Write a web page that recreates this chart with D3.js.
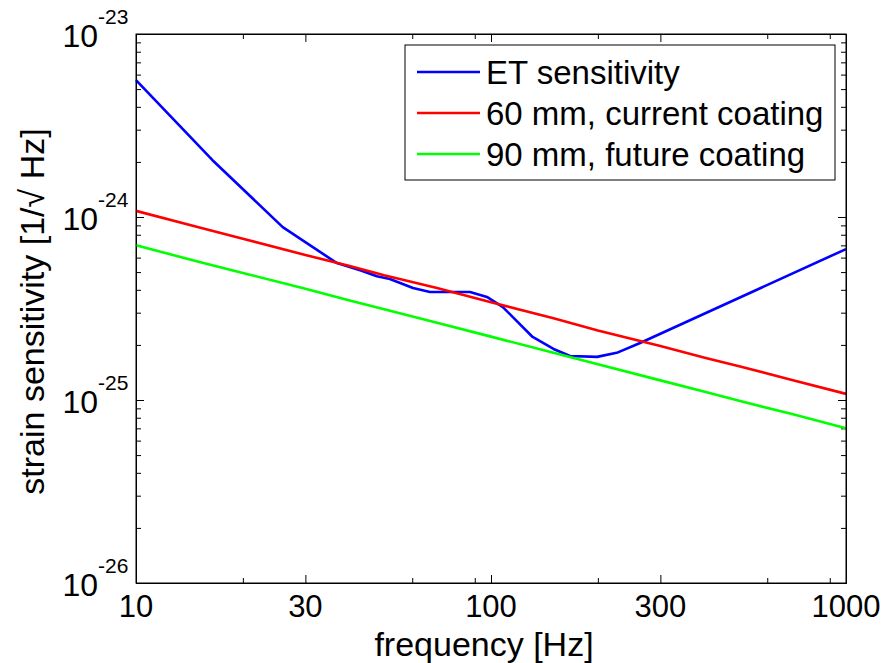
<!DOCTYPE html>
<html>
<head>
<meta charset="utf-8">
<script src="https://cdn.jsdelivr.net/npm/d3@7"></script>
<style>
  body { margin: 0; background: #fff; }
  text { font-family: "Liberation Sans", Arial, Helvetica, sans-serif; fill: #000; }
  .axis path, .axis line { stroke: #000; stroke-width: 1; }
</style>
</head>
<body>
<div id="chart"></div>
<script>
const margin = { top: 34, right: 38, bottom: 80, left: 136 };
const width = 884 - margin.left - margin.right,
      height = 663 - margin.top - margin.bottom;

// ET sensitivity curve
const freqET = [10, 16.4, 25.9, 36.8, 43, 47.7, 51.9, 60.3, 67.3, 87.3, 97.4, 108, 131, 150, 167, 199, 226, 263, 1000];
const sensET = [5.6e-24, 2.05e-24, 8.8e-25, 5.6e-25, 5.1e-25, 4.75e-25, 4.58e-25, 4.09e-25, 3.89e-25, 3.89e-25, 3.66e-25, 3.22e-25, 2.21e-25, 1.90e-25, 1.74e-25, 1.72e-25, 1.81e-25, 2.05e-25, 6.68e-25];

// coating curves
const freqCoat = [10, 15, 20, 30, 40, 50, 70, 100, 150, 200, 300, 400, 500, 700, 1000];
const sens60 = [1.08e-24, 8.8e-25, 7.6e-25, 6.2e-25, 5.4e-25, 4.8e-25, 4.1e-25, 3.42e-25, 2.8e-25, 2.4e-25, 1.97e-25, 1.7e-25, 1.53e-25, 1.29e-25, 1.08e-25];
const sens90 = [7.0e-25, 5.7e-25, 4.95e-25, 4.05e-25, 3.5e-25, 3.13e-25, 2.65e-25, 2.22e-25, 1.81e-25, 1.57e-25, 1.28e-25, 1.11e-25, 9.9e-26, 8.4e-26, 7.0e-26];

const seriesNames = ['ET sensitivity', '60 mm, current coating', '90 mm, future coating'];
const seriesColors = ['#0000ff', '#ff0000', '#00ff00'];

const xMajor = [10, 30, 100, 300, 1000];
const xMinor = [20, 60, 90, 200, 600, 900];
const yExponents = [-23, -24, -25, -26];

const series = [
  freqET.map((f, i) => ({ f: f, v: sensET[i] })),
  freqCoat.map((f, i) => ({ f: f, v: sens60[i] })),
  freqCoat.map((f, i) => ({ f: f, v: sens90[i] }))
];

const svg = d3.select('#chart').append('svg')
  .attr('width', width + margin.left + margin.right)
  .attr('height', height + margin.top + margin.bottom);

const g = svg.append('g')
  .attr('transform', 'translate(' + margin.left + ',' + margin.top + ')');

const xScale = d3.scaleLog().domain([10, 1000]).range([0, width]);
const yScale = d3.scaleLog().domain([1e-26, 1e-23]).range([height, 0]);

// y minor ticks 2..9 per decade
const yMinor = [];
yExponents.slice(1).forEach(e => {
  for (let k = 2; k <= 9; k++) yMinor.push(k * Math.pow(10, e));
});
const yMajor = yExponents.map(e => Math.pow(10, e));

const majLen = 8, minLen = 5;

// bottom & top
g.append('g').attr('class', 'axis')
  .attr('transform', 'translate(0,' + height + ')')
  .call(d3.axisBottom(xScale).tickValues(xMajor).tickSize(-majLen).tickSizeOuter(0).tickFormat(''));
g.append('g').attr('class', 'axis')
  .attr('transform', 'translate(0,' + height + ')')
  .call(d3.axisBottom(xScale).tickValues(xMinor).tickSize(-minLen).tickSizeOuter(0).tickFormat(''));
g.append('g').attr('class', 'axis')
  .call(d3.axisTop(xScale).tickValues(xMajor).tickSize(-majLen).tickSizeOuter(0).tickFormat(''));
g.append('g').attr('class', 'axis')
  .call(d3.axisTop(xScale).tickValues(xMinor).tickSize(-minLen).tickSizeOuter(0).tickFormat(''));

// left & right
g.append('g').attr('class', 'axis')
  .call(d3.axisLeft(yScale).tickValues(yMajor).tickSize(-majLen).tickSizeOuter(0).tickFormat(''));
g.append('g').attr('class', 'axis')
  .call(d3.axisLeft(yScale).tickValues(yMinor).tickSize(-minLen).tickSizeOuter(0).tickFormat(''));
g.append('g').attr('class', 'axis')
  .attr('transform', 'translate(' + width + ',0)')
  .call(d3.axisRight(yScale).tickValues(yMajor).tickSize(-majLen).tickSizeOuter(0).tickFormat(''));
g.append('g').attr('class', 'axis')
  .attr('transform', 'translate(' + width + ',0)')
  .call(d3.axisRight(yScale).tickValues(yMinor).tickSize(-minLen).tickSizeOuter(0).tickFormat(''));

// x tick labels
g.selectAll('text.xlab')
  .data(xMajor)
  .enter().append('text')
  .attr('class', 'xlab')
  .attr('x', d => xScale(d))
  .attr('y', height + 34)
  .attr('text-anchor', 'middle')
  .style('font-size', '31px')
  .text(d => d);

// y tick labels 10^e
const ylab = g.selectAll('g.ylab')
  .data(yExponents)
  .enter().append('g')
  .attr('class', 'ylab')
  .attr('transform', d => 'translate(-38,' + yScale(Math.pow(10, d)) + ')');
ylab.append('text')
  .attr('x', 0)
  .attr('y', 13)
  .attr('text-anchor', 'end')
  .style('font-size', '32px')
  .text('10');
ylab.append('text')
  .attr('x', 0)
  .attr('y', -10)
  .style('font-size', '21px')
  .text(d => d);

// curves
const line = d3.line()
  .x(d => xScale(d.f))
  .y(d => yScale(d.v));

g.selectAll('path.curve')
  .data(series)
  .enter().append('path')
  .attr('class', 'curve')
  .attr('d', line)
  .attr('fill', 'none')
  .attr('stroke', (d, i) => seriesColors[i])
  .attr('stroke-width', 2.6)
  .attr('stroke-linejoin', 'round');

// box
g.append('rect')
  .attr('width', width)
  .attr('height', height)
  .attr('fill', 'none')
  .attr('stroke', '#000')
  .attr('stroke-width', 1);

// axis titles
svg.append('text')
  .attr('x', 484)
  .attr('y', 656)
  .attr('text-anchor', 'middle')
  .style('font-size', '34px')
  .text('frequency [Hz]');

svg.append('text')
  .attr('transform', 'translate(44,' + (margin.top + height / 2 + 3) + ') rotate(-90)')
  .attr('text-anchor', 'middle')
  .style('font-size', '34px')
  .text('strain sensitivity [1/\u221A Hz]');

// legend
const legend = svg.append('g').attr('class', 'legend');
legend.append('rect')
  .attr('x', 405)
  .attr('y', 45)
  .attr('width', 430)
  .attr('height', 135)
  .attr('fill', '#fff')
  .attr('stroke', '#000')
  .attr('stroke-width', 1);

const items = legend.selectAll('g.item')
  .data(seriesNames)
  .enter().append('g')
  .attr('class', 'item')
  .attr('transform', (d, i) => 'translate(0,' + (72 + i * 41) + ')');
items.append('line')
  .attr('x1', 417).attr('x2', 480)
  .attr('y1', 0).attr('y2', 0)
  .attr('stroke', (d, i) => seriesColors[i])
  .attr('stroke-width', 2.6);
items.append('text')
  .attr('x', 486)
  .attr('y', 12)
  .style('font-size', '33px')
  .text(d => d);
</script>
</body>
</html>
